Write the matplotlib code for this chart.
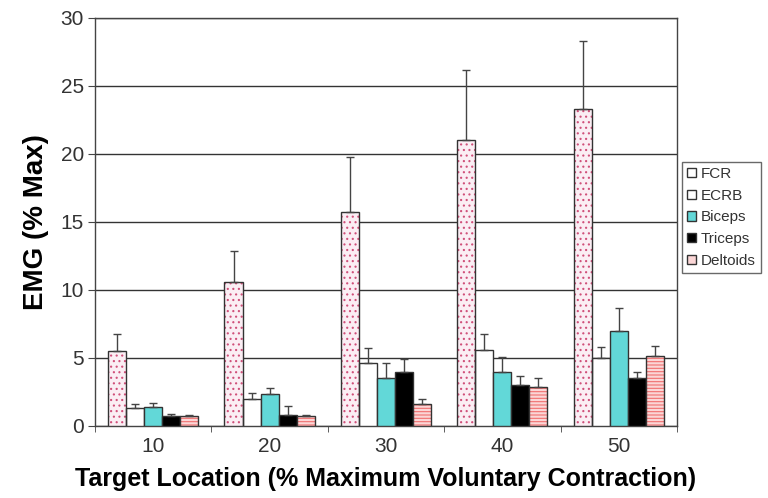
import matplotlib
matplotlib.use("Agg")
import matplotlib.pyplot as plt
import numpy as np
from matplotlib.patches import Patch

plt.rcParams['font.family'] = ['Liberation Sans', 'DejaVu Sans']
plt.rcParams['hatch.linewidth'] = 0.8

categories = ['10', '20', '30', '40', '50']
series = ['FCR', 'ECRB', 'Biceps', 'Triceps', 'Deltoids']
values = {
    'FCR':      [5.5, 10.6, 15.75, 21.0, 23.3],
    'ECRB':     [1.35, 2.0, 4.6, 5.6, 5.0],
    'Biceps':   [1.4, 2.35, 3.5, 4.0, 6.95],
    'Triceps':  [0.75, 0.8, 3.95, 3.0, 3.5],
    'Deltoids': [0.7, 0.7, 1.65, 2.9, 5.15],
}
errors = {
    'FCR':      [1.3, 2.3, 4.05, 5.2, 5.0],
    'ECRB':     [0.3, 0.4, 1.1, 1.2, 0.8],
    'Biceps':   [0.3, 0.45, 1.1, 1.1, 1.75],
    'Triceps':  [0.1, 0.7, 0.95, 0.7, 0.45],
    'Deltoids': [0.1, 0.1, 0.35, 0.6, 0.75],
}
faces = {'FCR': '#fbeef4', 'ECRB': 'white', 'Biceps': '#62d8d8',
         'Triceps': 'black', 'Deltoids': '#fbd6d6'}
hatches = {'FCR': '...', 'ECRB': None, 'Biceps': None, 'Triceps': None, 'Deltoids': '-----'}
hatch_colors = {'FCR': '#d0507a', 'Deltoids': '#f07070'}

fig = plt.figure(figsize=(7.68, 4.98), dpi=100)
ax = fig.add_axes([0.1237, 0.1446, 0.8815 - 0.1237, 0.9639 - 0.1446])

x = np.arange(len(categories))
w = 0.155
for i, s in enumerate(series):
    pos = x + (i - 2) * w
    if hatches[s]:
        ax.bar(pos, values[s], w, color=faces[s], edgecolor=hatch_colors[s],
               hatch=hatches[s], linewidth=0, zorder=3)
        ax.bar(pos, values[s], w, fill=False, edgecolor='#333333', linewidth=1.0, zorder=4)
    else:
        ax.bar(pos, values[s], w, color=faces[s], edgecolor='#333333', linewidth=1.0, zorder=3)
    ax.errorbar(pos, values[s], yerr=[np.zeros(len(categories)), errors[s]],
                fmt='none', ecolor='#444444', elinewidth=1.0, capsize=3, capthick=1.0, zorder=5)

ax.set_xlim(-0.5, len(categories) - 0.5)
ax.set_ylim(0, 30)
ax.set_yticks(np.arange(0, 31, 5))
ax.yaxis.grid(True, color='#333333', linewidth=1.0, zorder=0)
ax.set_axisbelow(True)
ax.set_xticks(x)
ax.set_xticklabels(categories)
ax.set_xticks(np.arange(-0.5, len(categories)), minor=True)
ax.tick_params(axis='x', which='major', length=0, labelsize=15, pad=8, labelcolor='#333333')
ax.tick_params(axis='x', which='minor', length=4, direction='out', color='#444444')
ax.tick_params(axis='y', length=5, direction='out', labelsize=15, color='#444444',
               labelcolor='#333333', pad=3)
for sp in ax.spines.values():
    sp.set_color('#444444')
    sp.set_linewidth(1.0)

ax.set_ylabel('EMG (% Max)', fontsize=20, fontweight='bold', labelpad=8)
ax.set_xlabel('Target Location (% Maximum Voluntary Contraction)', fontsize=18,
              fontweight='bold', labelpad=8)

handles = []
for s in series:
    fc = 'white' if s == 'FCR' else faces[s]
    handles.append(Patch(facecolor=fc, edgecolor='#333333', label=s))
leg = fig.legend(handles=handles, loc='upper left', bbox_to_anchor=(0.888, 0.675),
                 fontsize=11, frameon=True, fancybox=False, edgecolor='#444444',
                 handlelength=0.55, handleheight=0.55, handletextpad=0.3,
                 borderpad=0.35, labelspacing=0.5, borderaxespad=0)
leg.get_frame().set_linewidth(1.0)
for t in leg.get_texts():
    t.set_color('#333333')

fig.savefig('out.png', dpi=100)
